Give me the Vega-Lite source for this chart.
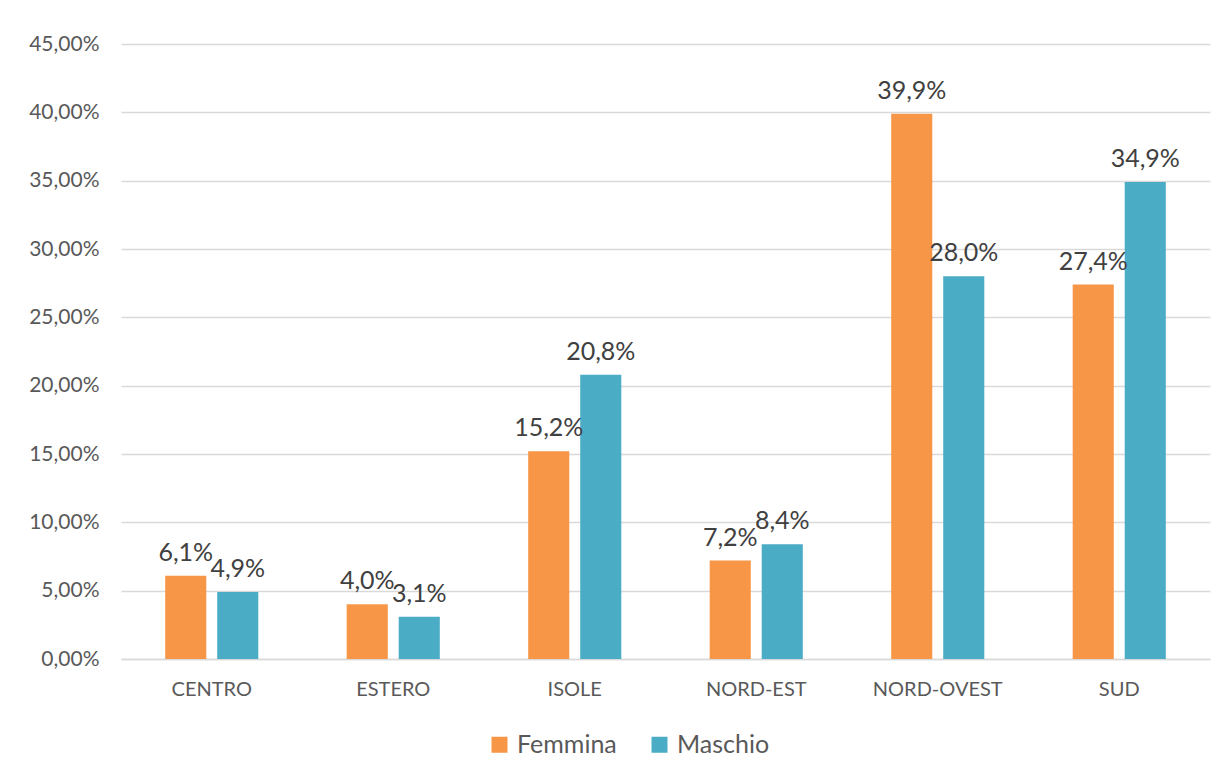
{
  "$schema": "https://vega.github.io/schema/vega-lite/v6.json",
  "width": 1089,
  "height": 615,
  "autosize": {"type": "none"},
  "padding": {"left": 121, "top": 44, "right": 16, "bottom": 117},
  "background": "white",
  "config": {
    "locale": {"number": {"decimal": ",", "thousands": ".", "grouping": [3], "currency": ["€", ""]}},
    "view": {"stroke": null},
    "font": "Lato"
  },
  "data": {
    "values": [
      {"regione": "CENTRO", "sesso": "Femmina", "valore": 0.061},
      {"regione": "CENTRO", "sesso": "Maschio", "valore": 0.049},
      {"regione": "ESTERO", "sesso": "Femmina", "valore": 0.040},
      {"regione": "ESTERO", "sesso": "Maschio", "valore": 0.031},
      {"regione": "ISOLE", "sesso": "Femmina", "valore": 0.152},
      {"regione": "ISOLE", "sesso": "Maschio", "valore": 0.208},
      {"regione": "NORD-EST", "sesso": "Femmina", "valore": 0.072},
      {"regione": "NORD-EST", "sesso": "Maschio", "valore": 0.084},
      {"regione": "NORD-OVEST", "sesso": "Femmina", "valore": 0.399},
      {"regione": "NORD-OVEST", "sesso": "Maschio", "valore": 0.280},
      {"regione": "SUD", "sesso": "Femmina", "valore": 0.274},
      {"regione": "SUD", "sesso": "Maschio", "valore": 0.349}
    ]
  },
  "encoding": {
    "x": {
      "field": "regione",
      "type": "nominal",
      "sort": ["CENTRO", "ESTERO", "ISOLE", "NORD-EST", "NORD-OVEST", "SUD"],
      "scale": {"paddingInner": 0.487, "paddingOuter": 0.2435},
      "axis": {
        "title": null,
        "domain": true,
        "domainColor": "#d9d9d9",
        "domainWidth": 1.5,
        "ticks": false,
        "labelAngle": 0,
        "labelFontSize": 20,
        "labelColor": "#595959",
        "labelPadding": 20
      }
    },
    "xOffset": {
      "field": "sesso",
      "type": "nominal",
      "sort": ["Femmina", "Maschio"],
      "scale": {"paddingInner": 0.21, "paddingOuter": 0}
    },
    "y": {
      "field": "valore",
      "type": "quantitative",
      "scale": {"domain": [0, 0.45], "nice": false},
      "axis": {
        "title": null,
        "values": [0, 0.05, 0.1, 0.15, 0.2, 0.25, 0.3, 0.35, 0.4, 0.45],
        "format": ".2%",
        "domain": false,
        "ticks": false,
        "labelFontSize": 21,
        "labelColor": "#595959",
        "labelPadding": 22,
        "grid": true,
        "gridColor": "#d9d9d9",
        "gridWidth": 1.5
      }
    }
  },
  "layer": [
    {
      "mark": {"type": "bar"},
      "encoding": {
        "color": {
          "field": "sesso",
          "type": "nominal",
          "scale": {"domain": ["Femmina", "Maschio"], "range": ["#F79646", "#4BACC6"]},
          "legend": {
            "title": null,
            "orient": "none",
            "legendX": 366,
            "legendY": 688,
            "direction": "horizontal",
            "symbolType": "square",
            "symbolSize": 256,
            "symbolStrokeWidth": 0,
            "labelFontSize": 25,
            "labelColor": "#595959",
            "labelOffset": 5,
            "columnPadding": 30,
            "padding": 0
          }
        }
      }
    },
    {
      "mark": {"type": "text", "baseline": "bottom", "dy": -10, "fontSize": 25, "color": "#404040"},
      "encoding": {
        "text": {"field": "valore", "type": "quantitative", "format": ".1%"}
      }
    }
  ]
}
